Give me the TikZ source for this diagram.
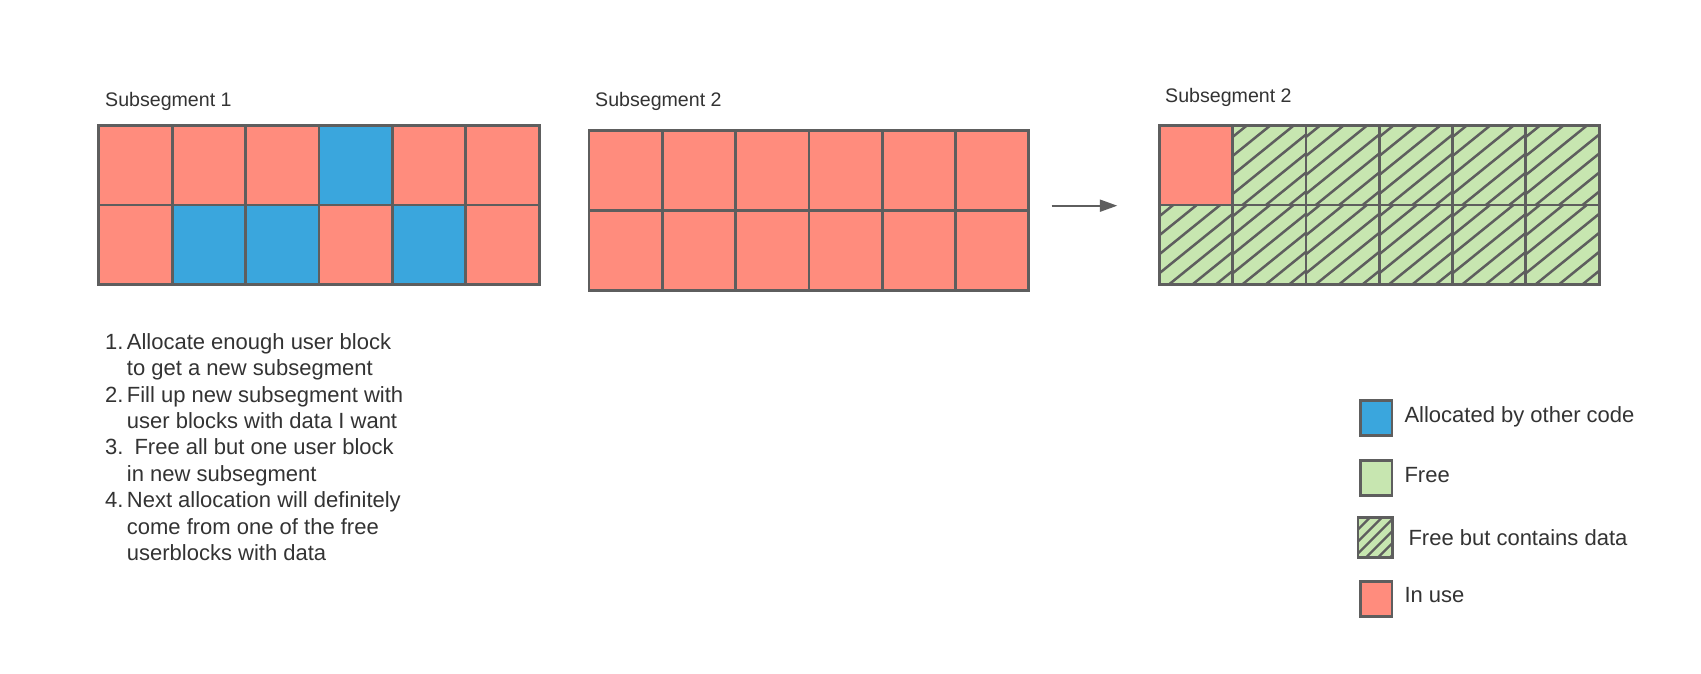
\documentclass[tikz,border=0pt]{standalone}
\usepackage{fontspec}
\setmainfont{Liberation Sans}
\usetikzlibrary{arrows.meta}
\definecolor{inuse}{HTML}{FF8C7D}
\definecolor{alloc}{HTML}{3AA6DD}
\definecolor{freec}{HTML}{C7E6B0}
\definecolor{edgec}{HTML}{5E5E5E}
\definecolor{txt}{HTML}{333333}
\begin{document}
\begin{tikzpicture}[x=1pt,y=-1pt,
  gridline/.style={draw=edgec,line width=2.8pt},
  gridbox/.style={draw=edgec,line width=2.8pt,inner sep=0pt,outer sep=0pt,anchor=north west},
  hatchline/.style={draw=edgec,line width=2.5pt},
  ttl/.style={text=txt,inner sep=0pt,anchor=base west,font=\fontsize{19.6}{23}\selectfont},
  lst/.style={text=txt,inner sep=0pt,anchor=base west,font=\fontsize{22}{26}\selectfont},
  legbox/.style={draw=edgec,line width=2.8pt,inner sep=0pt,outer sep=0pt,anchor=north west},
  connector/.style={draw=edgec,line width=2pt,-{Triangle[length=17.5pt,width=12pt]}}]
\useasboundingbox[fill=white] (0,0) rectangle (1701,674);

% ---------- titles
\node[ttl] (t1) at (105,106.7) {Subsegment 1};
\node[ttl] (t2) at (595,106.7) {Subsegment 2};
\node[ttl] (t3) at (1165,102.3) {Subsegment 2};

% ---------- grid 1
\foreach \c/\r/\col in {1/1/inuse,2/1/inuse,3/1/inuse,4/1/alloc,5/1/inuse,6/1/inuse,
                       1/2/inuse,2/2/alloc,3/2/alloc,4/2/inuse,5/2/alloc,6/2/inuse}
  \fill[\col] ({98.7+(\c-1)*73.4},{125.3+(\r-1)*79.7}) rectangle ++(73.4,79.7);
\foreach \c in {1,...,5}
  \draw[gridline] ({98.7+\c*73.4},125.3) -- ++(0,159.4);
\draw[gridline] (98.7,205) -- ++(440.4,0);
\node[gridbox,minimum width=440.4pt,minimum height=159.4pt] (g1) at (98.7,125.3) {};

% ---------- grid 2
\foreach \c in {1,...,6}
  \foreach \r in {1,2}
    \fill[inuse] ({589+(\c-1)*73.3},{130.7+(\r-1)*79.7}) rectangle ++(73.3,79.7);
\foreach \c in {1,...,5}
  \draw[gridline] ({589+\c*73.3},130.7) -- ++(0,159.4);
\draw[gridline] (589,210.4) -- ++(439.8,0);
\node[gridbox,minimum width=439.8pt,minimum height=159.4pt] (g2) at (589,130.7) {};

% ---------- grid 3
\fill[freec] (1159.3,125.7) rectangle ++(439.8,158.6);
\fill[inuse] (1159.3,125.7) rectangle ++(73.3,79.3);
\foreach \c/\r in {2/1,3/1,4/1,5/1,6/1,1/2,2/2,3/2,4/2,5/2,6/2}{
  \begin{scope}
    \clip ({1159.3+(\c-1)*73.3},{125.7+(\r-1)*79.3}) rectangle ++(73.3,79.3);
    \foreach \j in {-5,...,5}
      \draw[hatchline] ({1159.3+(\c-1)*73.3},{125.7+\r*79.3-11+19*\j}) -- ++(100,-81);
  \end{scope}
}
\foreach \c in {1,...,5}
  \draw[gridline] ({1159.3+\c*73.3},125.7) -- ++(0,158.6);
\draw[gridline] (1159.3,205) -- ++(439.8,0);
\node[gridbox,minimum width=439.8pt,minimum height=158.6pt] (g3) at (1159.3,125.7) {};

% ---------- arrow
\coordinate (a1) at (1051.7,205.7);
\coordinate (a2) at (1117.3,205.7);
\draw[connector] (a1) -- (a2);

% ---------- list
\node[lst] (n1) at (105,349.3) {1.};
\node[lst] (l1) at (126.7,349.3) {Allocate enough user block};
\node[lst] (l2) at (126.7,375.7) {to get a new subsegment};
\node[lst] (n2) at (105,402.1) {2.};
\node[lst] (l3) at (126.7,402.1) {Fill up new subsegment with};
\node[lst] (l4) at (126.7,428.5) {user blocks with data I want};
\node[lst] (n3) at (105,454.9) {3.};
\node[lst] (l5) at (134.3,454.9) {Free all but one user block};
\node[lst] (l6) at (126.7,481.3) {in new subsegment};
\node[lst] (n4) at (105,507.7) {4.};
\node[lst] (l7) at (126.7,507.7) {Next allocation will definitely};
\node[lst] (l8) at (126.7,534.1) {come from one of the free};
\node[lst] (l9) at (126.7,560.5) {userblocks with data};

% ---------- legend
\node[legbox,fill=alloc,minimum width=31.5pt,minimum height=35pt] (k1) at (1360.5,400.5) {};
\node[lst] (k1t) at (1404.3,422.7) {Allocated by other code};
\node[legbox,fill=freec,minimum width=31.5pt,minimum height=35pt] (k2) at (1360.5,460.5) {};
\node[lst] (k2t) at (1404.3,482.7) {Free};
\begin{scope}
  \fill[freec] (1358,517.5) rectangle ++(34.5,40);
  \clip (1358,517.5) rectangle ++(34.5,40);
  \foreach \j in {-4,...,4}
    \draw[edgec,line width=2.3pt] (1358,{557.5-4+12*\j}) -- ++(50,-50);
\end{scope}
\node[legbox,minimum width=34.5pt,minimum height=40pt] (k3) at (1358,517.5) {};
\node[lst] (k3t) at (1408.3,545.7) {Free but contains data};
\node[legbox,fill=inuse,minimum width=31.5pt,minimum height=35pt] (k4) at (1360.5,581.5) {};
\node[lst] (k4t) at (1404.3,602.3) {In use};
\end{tikzpicture}
\end{document}
